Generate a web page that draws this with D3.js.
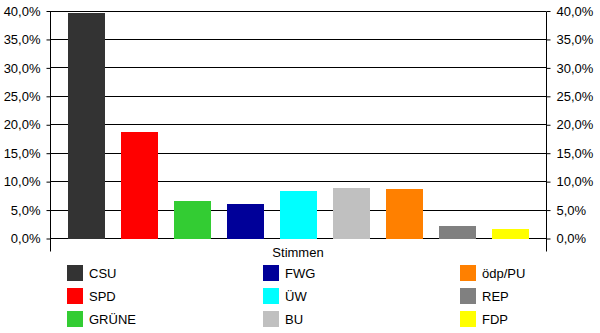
<!DOCTYPE html>
<html>
<head>
<meta charset="utf-8">
<script src="https://cdn.jsdelivr.net/npm/d3@7"></script>
<style>
  html, body { margin: 0; padding: 0; background: #fff; }
  svg { display: block; font-family: Arial, "Liberation Sans", sans-serif; }
</style>
</head>
<body>
<div id="chart"></div>
<script>
(function() {
  'use strict';

  var parties = ['CSU', 'SPD', 'GRÜNE', 'FWG', 'ÜW', 'BU', 'ödp/PU', 'REP', 'FDP'];
  var shares = [39.6, 18.6, 6.5, 6.0, 8.3, 8.8, 8.6, 2.1, 1.6];
  var colors = ['#333333', '#ff0000', '#33cc33', '#000099', '#00ffff', '#c0c0c0', '#ff8000', '#808080', '#ffff00'];
  var yTicks = [0, 5, 10, 15, 20, 25, 30, 35, 40];
  var axisTitle = 'Stimmen';

  var width = 600, height = 333;
  var plot = { left: 50, right: 546, top: 10.5, bottom: 238 };

  var de = d3.formatLocale({ decimal: ',', thousands: '.', grouping: [3], currency: ['', ' €'] });
  var fmt = function(d) { return de.format('.1f')(d) + '%'; };

  var svg = d3.select('#chart')
    .append('svg')
      .attr('width', width)
      .attr('height', height);

  var x = d3.scaleBand()
    .domain(parties)
    .range([plot.left, plot.right])
    .paddingInner(0.31)
    .paddingOuter(0.335);

  var y = d3.scaleLinear()
    .domain([0, 40])
    .range([plot.bottom, plot.top]);

  // grid lines
  svg.append('g')
    .selectAll('line')
    .data(yTicks)
    .join('line')
      .attr('x1', plot.left)
      .attr('x2', plot.right)
      .attr('y1', function(d) { return Math.round(y(d)) + 0.5; })
      .attr('y2', function(d) { return Math.round(y(d)) + 0.5; })
      .attr('stroke', '#000');

  // bars
  svg.append('g')
    .selectAll('rect')
    .data(parties)
    .join('rect')
      .attr('x', function(d) { return Math.round(x(d)); })
      .attr('width', Math.round(x.bandwidth()))
      .attr('y', function(d, i) { return Math.round(y(shares[i])); })
      .attr('height', function(d, i) { return Math.round(y(0)) - Math.round(y(shares[i])) + 1; })
      .attr('fill', function(d, i) { return colors[i]; });

  // value axes, left and right
  var left = d3.axisLeft(y).tickValues(yTicks).tickSize(4).tickSizeOuter(0).tickPadding(6).tickFormat(fmt);
  var right = d3.axisRight(y).tickValues(yTicks).tickSize(4).tickSizeOuter(0).tickPadding(6).tickFormat(fmt);

  [[left, plot.left], [right, plot.right]].forEach(function(a) {
    var g = svg.append('g')
      .attr('transform', 'translate(' + (a[1] + 0.5) + ',0.5)')
      .call(a[0]);
    g.select('.domain').remove();
    g.selectAll('.tick line').attr('stroke', '#000');
    g.selectAll('.tick text')
      .attr('fill', '#000')
      .style('font-size', '13px')
      .style('font-family', 'Arial, "Liberation Sans", sans-serif');
    // axis line continues down past the category axis
    g.append('line')
      .attr('y1', Math.round(plot.top))
      .attr('y2', 251)
      .attr('stroke', '#000');
  });

  // category axis title
  svg.append('text')
    .attr('x', (plot.left + plot.right) / 2)
    .attr('y', 257)
    .attr('text-anchor', 'middle')
    .style('font-size', '13px')
    .text(axisTitle);

  // legend: three columns of three
  var colX = [67, 263, 460];
  var rowY = [265, 288, 311];
  var legend = svg.append('g')
    .selectAll('g')
    .data(parties)
    .join('g')
      .attr('transform', function(d, i) {
        return 'translate(' + colX[Math.floor(i / 3)] + ',' + rowY[i % 3] + ')';
      });

  legend.append('rect')
    .attr('width', 16)
    .attr('height', 16)
    .attr('fill', function(d, i) { return colors[i]; });

  legend.append('text')
    .attr('x', 22)
    .attr('y', 13)
    .style('font-size', '13px')
    .text(function(d) { return d; });
})();
</script>
</body>
</html>
